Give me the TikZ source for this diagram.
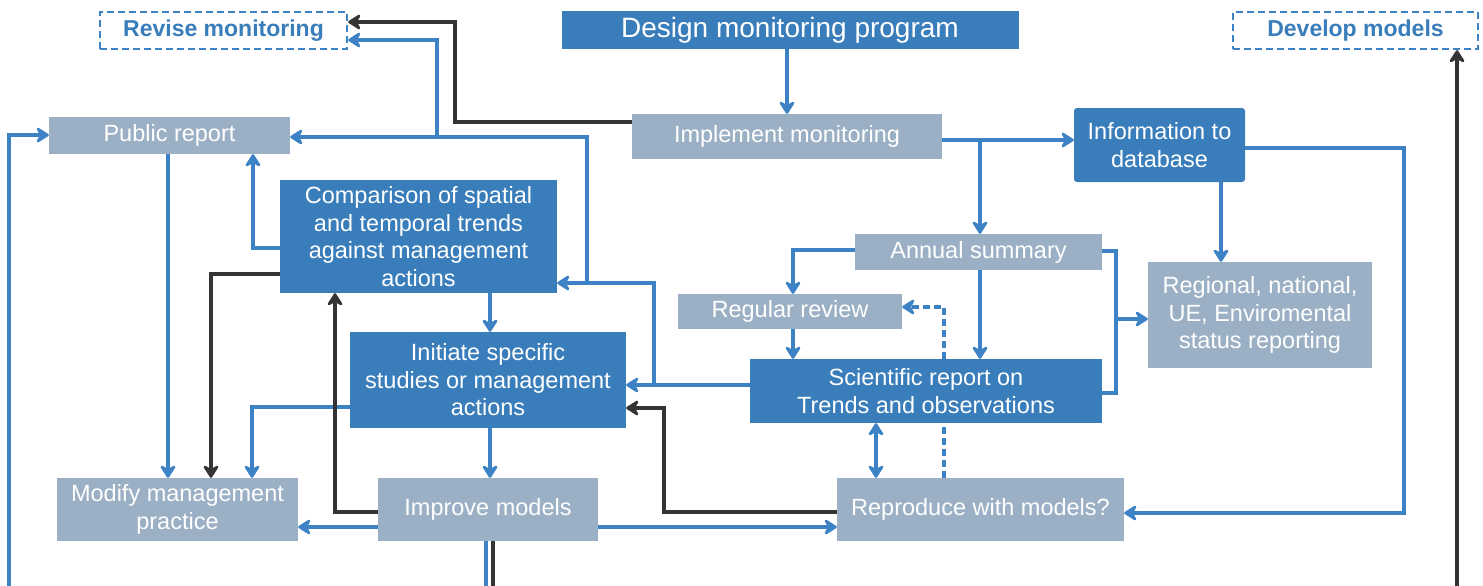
\documentclass[tikz,border=0pt]{standalone}
\usepackage{fontspec}
\setmainfont{Liberation Sans}
\usetikzlibrary{arrows.meta}
\definecolor{boxblue}{RGB}{57,125,187}
\definecolor{boxgrey}{RGB}{155,176,196}
\definecolor{lineblue}{RGB}{61,130,196}
\definecolor{linedark}{RGB}{52,52,52}
\tikzset{
	tip/.tip={Stealth[length=15pt,width=19pt,inset=5pt,round]},
	box/.style={inner sep=0pt,align=center,text=white,font=\fontsize{23.5}{27.5}\selectfont},
	bluebox/.style={box,fill=boxblue},
	greybox/.style={box,fill=boxgrey},
	outbox/.style={inner sep=0pt,draw=lineblue,dashed,line width=2.4pt,dash pattern=on 7pt off 4pt,
		text=boxblue,font=\fontsize{23}{25}\selectfont\bfseries},
	arr/.style={draw=lineblue,line width=3.2pt,-tip},
	darr/.style={draw=linedark,line width=3.2pt,-tip},
	bline/.style={draw=lineblue,line width=3.2pt},
}
\begin{document}
\begin{tikzpicture}[x=1pt,y=-1pt]
	\useasboundingbox[fill=white](0,0)rectangle(1483,586);
	\node[outbox,minimum width=247,minimum height=37](revise)at(223.5,30.5){Revise monitoring};
	\node[outbox,minimum width=245,minimum height=37](develop)at(1355.5,30.5){Develop models};
	\node[bluebox,minimum width=457,minimum height=38,font=\fontsize{28}{30}\selectfont](design)at(790,30){Design monitoring program};
	\node[greybox,minimum width=310,minimum height=45](implement)at(787,136.5){Implement monitoring};
	\node[bluebox,minimum width=171,minimum height=74,rounded corners=3pt](info)at(1159.5,145){Information to\\database};
	\node[greybox,minimum width=241,minimum height=37](public)at(169.5,135.5){Public report};
	\node[bluebox,minimum width=277,minimum height=113](comparison)at(418.5,236.5){Comparison of spatial\\and temporal trends\\against management\\actions};
	\node[greybox,minimum width=247,minimum height=36](annual)at(978.5,252){Annual summary};
	\node[greybox,minimum width=224,minimum height=35](regular)at(790,311.5){Regular review};
	\node[greybox,minimum width=224,minimum height=106](regional)at(1260,315){Regional, national,\\UE, Enviromental\\status reporting};
	\node[bluebox,minimum width=276,minimum height=96](initiate)at(488,380){Initiate specific\\studies or management\\actions};
	\node[bluebox,minimum width=352,minimum height=64](scientific)at(926,391){Scientific report on\\Trends and observations};
	\node[greybox,minimum width=241,minimum height=63](modify)at(177.5,509.5){Modify management\\practice};
	\node[greybox,minimum width=220,minimum height=63](improve)at(488,509.5){Improve models};
	\node[greybox,minimum width=287,minimum height=63](reproduce)at(980.5,509.5){Reproduce with models?};
	\coordinate(leftend)at(9,586);
	\coordinate(rightend)at(1457,586);
	\coordinate(downblue)at(486,586);
	\coordinate(downdark)at(493,586);
	\draw[arr](implement.north|-design.south)--(implement.north);
	\draw[darr](implement.west|-0,122)-|(455,22)--(revise.east|-0,22);
	\draw[arr](scientific.west|-0,385)--(initiate.east|-0,385);
	\draw[arr](654,385)|-(comparison.east|-0,283);
	\draw[arr](587,283)|-(public.east|-0,137);
	\draw[arr](437,137)|-(revise.east|-0,40);
	\draw[arr](public.south-|168,0)--(modify.north-|168,0);
	\draw[arr](comparison.west|-0,248)-|(public.south-|253,0);
	\draw[darr](comparison.west|-0,274)-|(modify.north-|211,0);
	\draw[arr](initiate.west|-0,407)-|(modify.north-|252,0);
	\draw[arr](comparison.south-|490,0)--(initiate.north-|490,0);
	\draw[arr](initiate.south-|490,0)--(improve.north-|490,0);
	\draw[darr](improve.west|-0,512)-|(comparison.south-|335,0);
	\draw[arr](improve.west|-0,527)--(modify.east|-0,527);
	\draw[arr](improve.east|-0,527)--(reproduce.west|-0,527);
	\draw[darr](reproduce.west|-0,512)-|(664,408)--(initiate.east|-0,408);
	\draw[draw=lineblue,line width=3.2pt,tip-tip](scientific.south-|876,0)--(reproduce.north-|876,0);
	\draw[bline,dashed,dash pattern=on 7pt off 4pt](reproduce.north-|944,0)--(scientific.south-|944,0);
	\draw[arr,dash pattern=on 7pt off 4pt](scientific.north-|944,0)|-(regular.east|-0,307);
	\draw[arr](implement.east|-0,140)--(info.west|-0,140);
	\draw[arr](980,140)--(annual.north-|980,0);
	\draw[arr](annual.west|-0,250)-|(regular.north-|793,0);
	\draw[arr](regular.south-|793,0)--(scientific.north-|793,0);
	\draw[arr](annual.south-|980,0)--(scientific.north-|980,0);
	\draw[bline](annual.east|-0,251)-|(1116,393)--(scientific.east|-0,393);
	\draw[arr](1116,319)--(regional.west|-0,319);
	\draw[arr](info.south-|1221,0)--(regional.north-|1221,0);
	\draw[arr](info.east|-0,148)-|(1404,513)--(reproduce.east|-0,513);
	\draw[arr](leftend)|-(public.west|-0,135);
	\draw[darr](rightend)--(develop.south-|rightend);
	\draw[bline](improve.south-|downblue)--(downblue);
	\draw[draw=linedark,line width=3.2pt](improve.south-|downdark)--(downdark);
\end{tikzpicture}
\end{document}
